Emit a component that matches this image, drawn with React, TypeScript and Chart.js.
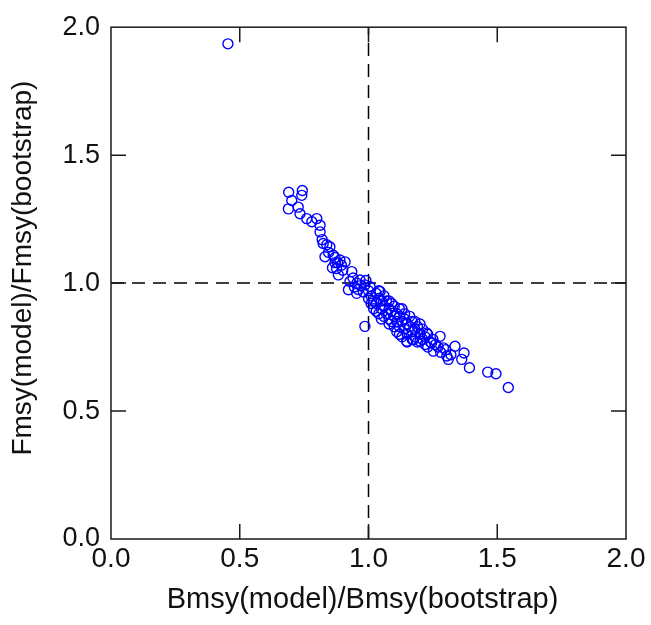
import React, { useEffect, useRef } from "react";
import { Chart, registerables } from "chart.js";

Chart.register(...registerables);

const xTicks = [0, 0.5, 1.0, 1.5, 2.0];
const yTicks = [0, 0.5, 1.0, 1.5, 2.0];
const refB = 1.0;
const refF = 1.0;
const xTitle = "Bmsy(model)/Bmsy(bootstrap)";
const yTitle = "Fmsy(model)/Fmsy(bootstrap)";

const bmsyRatio = [
  0.454,
  0.69, 0.743, 0.741, 0.702, 0.689, 0.727, 0.734, 0.76, 0.799, 0.812, 0.812, 0.824, 0.85, 0.831, 0.863,
  0.889, 0.909, 0.876, 0.883, 0.935, 0.928, 0.967, 0.986, 0.922, 0.954, 1.006, 1.045,
  0.838, 0.845, 0.87, 0.895, 0.9, 0.88, 0.86, 0.94, 0.955, 0.97, 0.99, 1.0, 0.96, 0.98, 0.945,
  0.78, 0.82, 0.87,
  1.01, 1.02, 1.03, 1.03, 1.04, 1.05, 1.05, 1.06, 1.06, 1.07, 1.07, 1.08, 1.08, 1.09, 1.09, 1.1,
  1.1, 1.11, 1.11, 1.12, 1.12, 1.13, 1.13, 1.14, 1.14, 1.15, 1.15, 1.16, 1.16, 1.17, 1.17, 1.18,
  1.18, 1.19, 1.2, 1.21, 1.21, 1.22, 1.23, 1.24, 1.0, 1.02, 1.04, 1.06, 1.08, 1.1, 1.12, 1.04,
  1.08, 1.12, 1.15, 1.13, 1.19, 1.17, 1.01, 1.03, 1.05, 1.09, 1.11, 1.14, 1.18, 1.2, 1.22, 1.25,
  0.986, 1.543, 1.463, 1.495, 1.392, 1.371, 1.362, 1.336, 1.31, 1.304, 1.278, 1.291, 1.252, 1.245,
  1.226, 1.2, 1.148, 1.174, 1.27, 1.28, 1.3, 1.32, 1.26, 1.23,
];

const fmsyRatio = [
  1.935,
  1.355, 1.362, 1.343, 1.323, 1.29, 1.297, 1.271, 1.252, 1.252, 1.226, 1.2, 1.155, 1.142, 1.103, 1.109,
  1.09, 1.083, 1.057, 1.032, 1.045, 1.006, 1.012, 0.993, 0.974, 0.96, 0.986, 0.967,
  1.15, 1.12, 1.1, 1.07, 1.05, 1.08, 1.06, 1.02, 1.0, 0.99, 1.01, 0.97, 0.975, 0.965, 0.985,
  1.24, 1.17, 1.08,
  0.95, 0.93, 0.96, 0.92, 0.94, 0.9, 0.93, 0.95, 0.91, 0.88, 0.93, 0.9, 0.86, 0.92, 0.89, 0.87,
  0.91, 0.85, 0.88, 0.83, 0.87, 0.9, 0.85, 0.86, 0.82, 0.84, 0.8, 0.87, 0.83, 0.81, 0.85, 0.82,
  0.79, 0.83, 0.8, 0.82, 0.78, 0.79, 0.8, 0.77, 0.94, 0.9, 0.88, 0.87, 0.84, 0.83, 0.8, 0.97,
  0.93, 0.9, 0.77, 0.79, 0.77, 0.78, 0.92, 0.89, 0.86, 0.85, 0.81, 0.88, 0.85, 0.84, 0.76, 0.78,
  0.831, 0.592, 0.652, 0.646, 0.669, 0.727, 0.702, 0.753, 0.702, 0.715, 0.792, 0.747, 0.734, 0.766,
  0.805, 0.773, 0.773, 0.779, 0.75, 0.73, 0.74, 0.72, 0.76, 0.75,
];

const FONT = "'Liberation Sans', Arial, sans-serif";

const framePlugin = {
  id: "frameTicks",
  afterDatasetsDraw(chart: any) {
    const { ctx, chartArea, scales } = chart;
    const { left, right, top, bottom } = chartArea;
    ctx.save();
    ctx.strokeStyle = "#1a1a1a";
    ctx.lineWidth = 1.5;
    ctx.strokeRect(left, top, right - left, bottom - top);
    const tl = 15;
    ctx.beginPath();
    xTicks.forEach((v) => {
      if (v <= 0 || v >= 2) return;
      const px = scales.x.getPixelForValue(v);
      ctx.moveTo(px, bottom);
      ctx.lineTo(px, bottom - tl);
      ctx.moveTo(px, top);
      ctx.lineTo(px, top + tl);
    });
    yTicks.forEach((v) => {
      if (v <= 0 || v >= 2) return;
      const py = scales.y.getPixelForValue(v);
      ctx.moveTo(left, py);
      ctx.lineTo(left + tl, py);
      ctx.moveTo(right, py);
      ctx.lineTo(right - tl, py);
    });
    ctx.stroke();
    ctx.restore();
  },
  afterDraw(chart: any) {
    const { ctx, chartArea } = chart;
    ctx.save();
    ctx.fillStyle = "#111";
    ctx.textAlign = "center";
    ctx.textBaseline = "middle";
    ctx.font = `29px ${FONT}`;
    ctx.fillText(xTitle, (chartArea.left + chartArea.right) / 2 - 6, 600);
    ctx.translate(23, (chartArea.top + chartArea.bottom) / 2 - 15);
    ctx.rotate(-Math.PI / 2);
    ctx.font = `28px ${FONT}`;
    ctx.fillText(yTitle, 0, 0);
    ctx.restore();
  },
};

export default function App() {
  const ref = useRef<HTMLCanvasElement | null>(null);
  useEffect(() => {
    if (!ref.current) return;
    const points = bmsyRatio.map((b, i) => ({ x: b, y: fmsyRatio[i] }));
    const chart = new Chart(ref.current, {
      type: "scatter",
      data: {
        datasets: [
          {
            label: "points",
            data: points,
            pointStyle: "circle",
            pointRadius: 5,
            pointBorderWidth: 1.4,
            borderColor: "#0000ff",
            backgroundColor: "rgba(0,0,0,0)",
            order: 0,
          },
          {
            label: "refB",
            type: "line",
            data: [
              { x: refB, y: 0 },
              { x: refB, y: 2 },
            ],
            borderColor: "#000",
            borderWidth: 1.5,
            borderDash: [13, 8],
            pointRadius: 0,
            showLine: true,
            order: 1,
          } as any,
          {
            label: "refF",
            type: "line",
            data: [
              { x: 0, y: refF },
              { x: 2, y: refF },
            ],
            borderColor: "#000",
            borderWidth: 1.5,
            borderDash: [13, 8],
            pointRadius: 0,
            showLine: true,
            order: 1,
          } as any,
        ],
      },
      options: {
        animation: false,
        responsive: false,
        maintainAspectRatio: false,
        layout: { padding: { top: 24, right: 25, left: 0, bottom: 0 } },
        plugins: { legend: { display: false }, tooltip: { enabled: false } },
        scales: {
          x: {
            type: "linear",
            min: 0,
            max: 2,
            afterBuildTicks: (s: any) => {
              s.ticks = xTicks.map((v) => ({ value: v }));
            },
            afterFit: (s: any) => {
              s.height = 86;
            },
            grid: { display: false, drawTicks: false },
            border: { display: false },
            ticks: {
              padding: 3,
              color: "#111",
              font: { family: FONT, size: 28 },
              maxRotation: 0,
              callback: (v: any) => Number(v).toFixed(1),
            },
            title: { display: false },
          },
          y: {
            type: "linear",
            min: 0,
            max: 2,
            afterBuildTicks: (s: any) => {
              s.ticks = yTicks.map((v) => ({ value: v }));
            },
            afterFit: (s: any) => {
              s.width = 111;
            },
            grid: { display: false, drawTicks: false },
            border: { display: false },
            ticks: {
              padding: 11,
              color: "#111",
              font: { family: FONT, size: 27 },
              callback: (v: any) => Number(v).toFixed(1),
            },
            title: { display: false },
          },
        },
      },
      plugins: [framePlugin],
    });
    return () => chart.destroy();
  }, []);
  return (
    <div style={{ position: "fixed", left: 0, top: 0, width: 651, height: 625, background: "#fff" }}>
      <canvas ref={ref} width={651} height={625} style={{ width: 651, height: 625, display: "block" }} />
    </div>
  );
}
